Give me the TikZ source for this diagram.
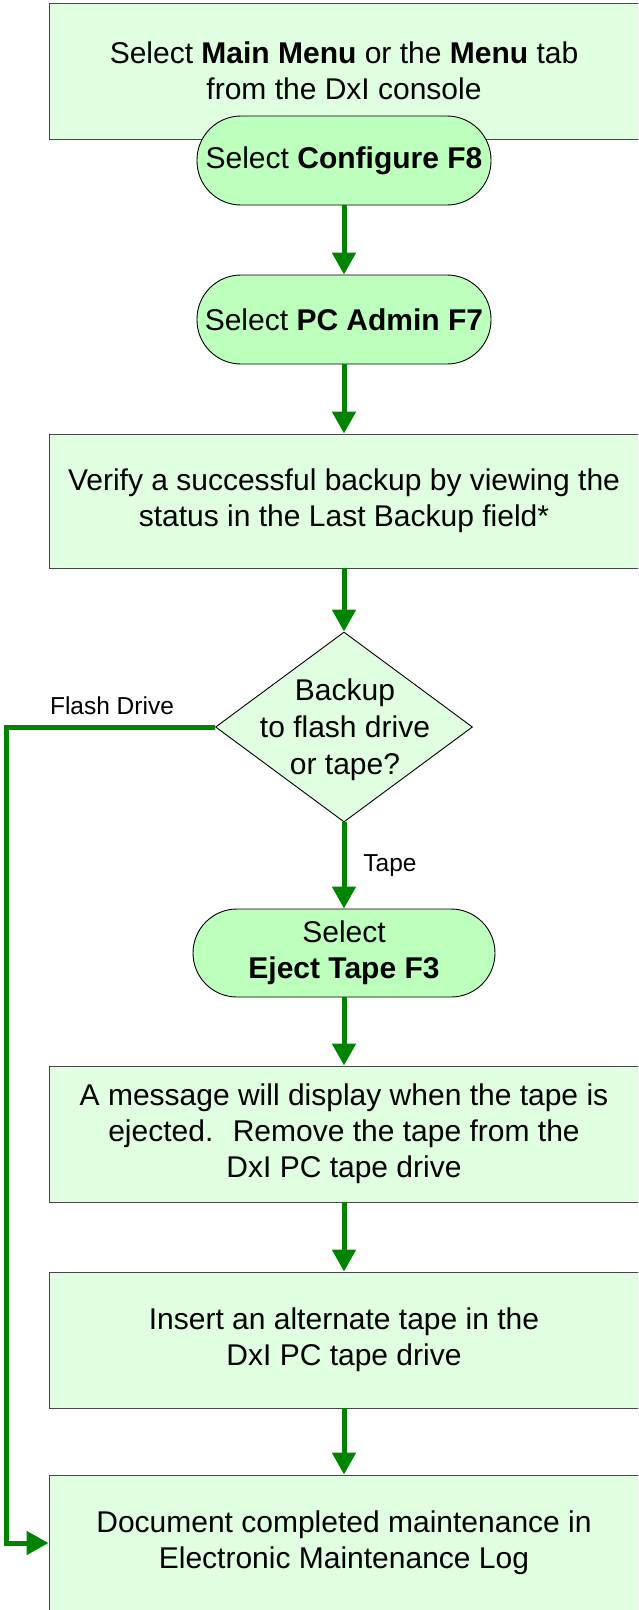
\documentclass[tikz,border=0pt]{standalone}
\usepackage{fontspec}
\setmainfont{Liberation Sans}
\usetikzlibrary{arrows.meta,shapes.geometric}
\definecolor{boxfill}{RGB}{224,255,224}
\definecolor{termfill}{RGB}{189,255,189}
\definecolor{arrgreen}{RGB}{0,132,0}
\definecolor{boxline}{RGB}{70,70,70}
\tikzset{
  procbox/.style={draw=boxline,line width=0.9pt,fill=boxfill,minimum width=590pt,minimum height=136pt,inner sep=0pt,align=center,font=\fontsize{30}{36}\selectfont},
  termbox/.style={draw=black,line width=0.9pt,fill=termfill,rounded corners=44pt,minimum width=294pt,minimum height=89pt,inner sep=0pt,align=center,font=\fontsize{30}{36}\selectfont},
  decbox/.style={draw=black,line width=0.9pt,fill=boxfill,diamond,shape aspect=1.3526,minimum width=257pt,minimum height=190pt,inner sep=0pt},
  dectxt/.style={align=center,font=\fontsize{30}{37}\selectfont,inner sep=0pt},
  conn/.style={draw=arrgreen,line width=5pt,-{Triangle[width=23pt,length=22pt]}},
  lbl/.style={font=\fontsize{24.5}{28}\selectfont,inner sep=0pt}
}
\begin{document}
\begin{tikzpicture}[x=1pt,y=1pt]
\useasboundingbox (0,0) rectangle (638,-1610);
\clip (0,0) rectangle (638,-1610);
\node[procbox] (b1) at (344,-71) {Select \textbf{Main Menu} or the \textbf{Menu} tab\\from the DxI console};
\node[termbox] (t1) at (344,-160.5) {Select \textbf{Configure F8}};
\node[termbox] (t2) at (344,-319.5) {Select \textbf{PC Admin F7}};
\node[procbox,minimum height=134pt] (b2) at (344,-501) {Verify a successful backup by viewing the\\status in the Last Backup field*};
\node[decbox] (dec) at (344,-727) {};
\node[dectxt] (dect) at (345,-730) {Backup\\to flash drive\\or tape?};
\node[termbox,minimum width=302pt,minimum height=88pt] (t3) at (344,-953) {Select\\\textbf{Eject Tape F3}};
\node[procbox] (b3) at (344,-1134) {A message will display when the tape is\\ejected.~ Remove the tape from the\\DxI PC tape drive};
\node[procbox] (b4) at (344,-1340) {Insert an alternate tape in the\\DxI PC tape drive};
\node[procbox] (b5) at (344,-1543) {Document completed maintenance in\\Electronic Maintenance Log};
\coordinate (fd) at (6,-727);
\draw[conn] (t1.south) -- (t2.north);
\draw[conn] (t2.south) -- (b2.north);
\draw[conn] (b2.south) -- (dec.north);
\draw[conn] (dec.south) -- (t3.north);
\draw[conn] (t3.south) -- (b3.north);
\draw[conn] (b3.south) -- (b4.north);
\draw[conn] (b4.south) -- (b5.north);
\draw[conn] (dec.west) -- (fd) |- (b5.west);
\node[lbl] (lfd) at (112,-706) {Flash Drive};
\node[lbl] (ltp) at (390,-866) {Tape};
\end{tikzpicture}
\end{document}
